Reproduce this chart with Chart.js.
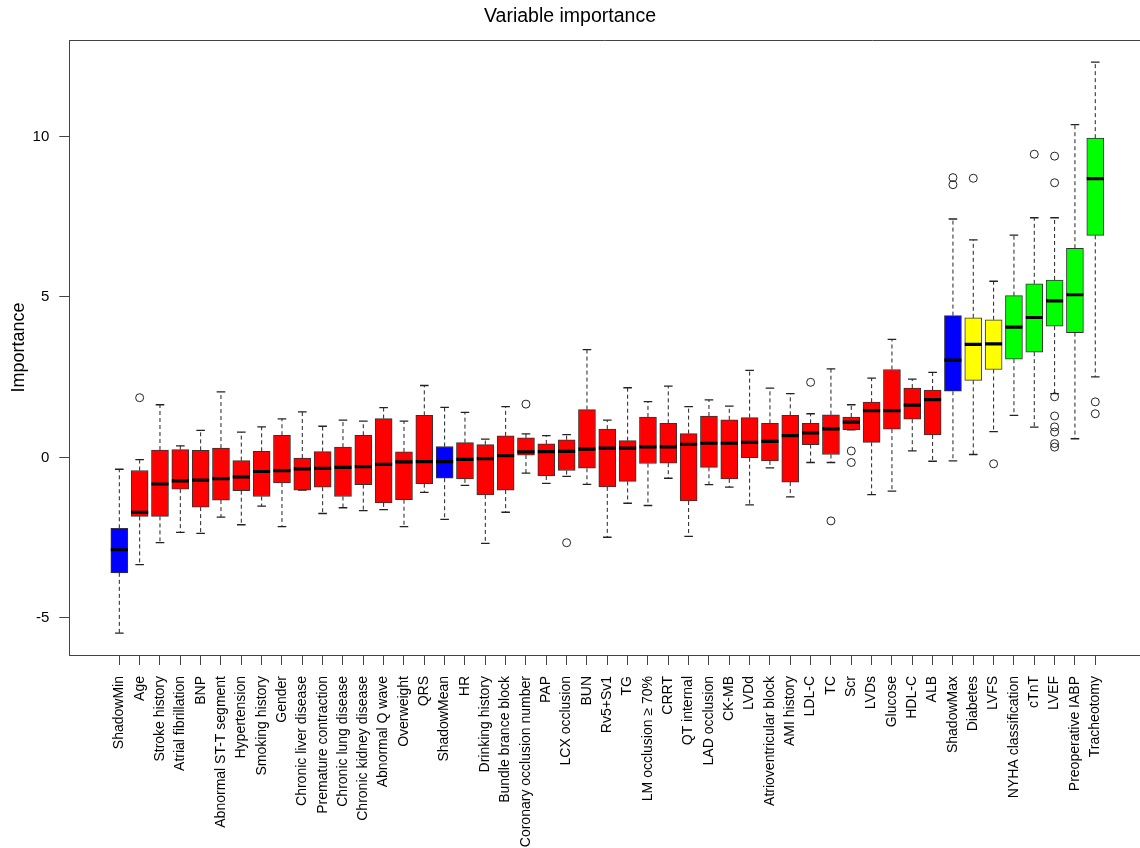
<!DOCTYPE html>
<html>
<head>
<meta charset="utf-8">
<title>Variable importance</title>
<script src="https://cdn.jsdelivr.net/npm/chart.js@4.4.1/dist/chart.umd.min.js"></script>
<style>
  html, body { margin: 0; padding: 0; background: #fff; overflow: hidden; }
  canvas { display: block; }
</style>
</head>
<body>
<canvas id="myChart" width="1140" height="848"></canvas>
<script>
// variables, left to right
const categories = [
    'ShadowMin', 'Age', 'Stroke history', 'Atrial fibrillation', 'BNP', 'Abnormal ST-T segment',
    'Hypertension', 'Smoking history', 'Gender', 'Chronic liver disease', 'Premature contraction',
    'Chronic lung disease', 'Chronic kidney disease', 'Abnormal Q wave', 'Overweight', 'QRS',
    'ShadowMean', 'HR', 'Drinking history', 'Bundle brance block', 'Coronary occlusion number',
    'PAP', 'LCX occlusion', 'BUN', 'Rv5+Sv1', 'TG', 'LM occlusion \u2265 70%', 'CRRT', 'QT internal',
    'LAD occlusion', 'CK-MB', 'LVDd', 'Atrioventricular block', 'AMI history', 'LDL-C', 'TC', 'Scr',
    'LVDs', 'Glucose', 'HDL-C', 'ALB', 'ShadowMax', 'Diabetes', 'LVFS', 'NYHA classification',
    'cTnT', 'LVEF', 'Preoperative IABP', 'Tracheotomy'
];

// boruta decision of each variable
const decision = [
    'shadow', 'rejected', 'rejected', 'rejected', 'rejected', 'rejected',
    'rejected', 'rejected', 'rejected', 'rejected', 'rejected',
    'rejected', 'rejected', 'rejected', 'rejected', 'rejected',
    'shadow', 'rejected', 'rejected', 'rejected', 'rejected',
    'rejected', 'rejected', 'rejected', 'rejected', 'rejected', 'rejected', 'rejected', 'rejected',
    'rejected', 'rejected', 'rejected', 'rejected', 'rejected', 'rejected', 'rejected', 'rejected',
    'rejected', 'rejected', 'rejected', 'rejected', 'shadow', 'tentative', 'tentative', 'confirmed',
    'confirmed', 'confirmed', 'confirmed', 'confirmed'
];

const whiskerLow = [
    -5.48, -3.34, -2.66, -2.34, -2.37, -1.86, -2.10, -1.52, -2.16, -1.02, -1.75, -1.57, -1.66,
    -1.63, -2.16, -1.09, -1.93, -0.87, -2.68, -1.71, -0.49, -0.81, -0.59, -0.84, -2.49, -1.43,
    -1.50, -0.65, -2.46, -0.85, -0.93, -1.48, -0.33, -1.23, -0.16, -0.16, 0.86, -1.16, -1.05,
    0.20, -0.12, -0.11, 0.09, 0.80, 1.31, 0.94, 1.99, 0.58, 2.51
];
const quartile1 = [
    -3.60, -1.84, -1.84, -0.99, -1.55, -1.33, -1.04, -1.22, -0.80, -1.02, -0.93, -1.22, -0.85,
    -1.42, -1.32, -0.82, -0.65, -0.67, -1.17, -1.02, 0.07, -0.58, -0.41, -0.34, -0.92, -0.75,
    -0.19, -0.18, -1.36, -0.31, -0.67, -0.01, -0.11, -0.77, 0.40, 0.09, 0.86, 0.47, 0.88,
    1.19, 0.70, 2.06, 2.40, 2.74, 3.06, 3.28, 4.09, 3.89, 6.92
];
const medians = [
    -2.88, -1.71, -0.83, -0.73, -0.71, -0.66, -0.61, -0.44, -0.41, -0.36, -0.34, -0.31, -0.29,
    -0.22, -0.14, -0.13, -0.13, -0.06, -0.04, 0.05, 0.17, 0.18, 0.19, 0.26, 0.29, 0.29,
    0.33, 0.33, 0.41, 0.44, 0.44, 0.47, 0.50, 0.68, 0.76, 0.89, 1.10, 1.46, 1.46,
    1.63, 1.80, 3.03, 3.52, 3.54, 4.06, 4.36, 4.88, 5.07, 8.69
];
const quartile3 = [
    -2.21, -0.41, 0.23, 0.24, 0.22, 0.29, -0.10, 0.19, 0.69, -0.02, 0.18, 0.32, 0.69,
    1.21, 0.17, 1.31, 0.34, 0.46, 0.40, 0.67, 0.61, 0.42, 0.55, 1.49, 0.88, 0.52,
    1.26, 1.06, 0.74, 1.29, 1.17, 1.24, 1.06, 1.31, 1.06, 1.33, 1.26, 1.72, 2.74,
    2.16, 2.10, 4.42, 4.35, 4.29, 5.04, 5.41, 5.53, 6.52, 9.95
];
const whiskerHigh = [
    -0.37, -0.07, 1.64, 0.36, 0.84, 2.04, 0.79, 0.95, 1.20, 1.42, 0.97, 1.16, 1.13,
    1.55, 1.13, 2.24, 1.56, 1.40, 0.57, 1.58, 0.73, 0.68, 0.71, 3.36, 1.16, 2.17,
    1.74, 2.22, 1.58, 1.79, 1.60, 2.71, 2.16, 1.99, 1.36, 2.76, 1.64, 2.47, 3.68,
    2.44, 2.65, 7.43, 6.78, 5.49, 6.93, 7.47, 7.47, 10.37, 12.32
];
const outliers = [
    [], [1.86], [], [], [], [], [], [], [], [], [], [], [],
    [], [], [], [], [], [], [], [1.66], [], [-2.66], [], [], [],
    [], [], [], [], [], [], [], [], [2.34], [-1.98], [0.20, -0.16], [], [],
    [], [], [8.50, 8.72], [8.70], [-0.20], [], [9.45],
    [9.39, 8.56, 1.89, 1.29, 0.95, 0.79, 0.43, 0.32], [], [1.73, 1.36]
];

const yTicks = [-5, 0, 5, 10];

const colorOf = {
    shadow: '#0000ff',
    rejected: '#ff0000',
    tentative: '#ffff00',
    confirmed: '#00ff00'
};

const ink = '#222';

// build the datasets from the arrays above
const boxes = categories.map((c, i) => ({ x: i, y: [quartile1[i], quartile3[i]] }));
const medianPts = categories.map((c, i) => ({ x: i, y: medians[i] }));
const capPts = [];
const upperWhisk = [];
const lowerWhisk = [];
categories.forEach((c, i) => {
    capPts.push({ x: i, y: whiskerLow[i] }, { x: i, y: whiskerHigh[i] });
    upperWhisk.push({ x: i, y: quartile3[i] }, { x: i, y: whiskerHigh[i] }, { x: i, y: null });
    lowerWhisk.push({ x: i, y: quartile1[i] }, { x: i, y: whiskerLow[i] }, { x: i, y: null });
});
const outlierPts = [];
outliers.forEach((list, i) => list.forEach(v => outlierPts.push({ x: i, y: v })));

// top edge of the plot frame (left and bottom come from the axes)
const topFrame = {
    id: 'topFrame',
    afterDraw(chart) {
        const { ctx, chartArea } = chart;
        ctx.save();
        ctx.strokeStyle = '#444';
        ctx.lineWidth = 1;
        ctx.beginPath();
        ctx.moveTo(chartArea.left, Math.round(chartArea.top) + 0.5);
        ctx.lineTo(chartArea.right, Math.round(chartArea.top) + 0.5);
        ctx.stroke();
        ctx.restore();
    }
};

Chart.defaults.font.family = "'Liberation Sans', Arial, Helvetica, sans-serif";
Chart.defaults.color = '#000';

const ctx = document.getElementById('myChart');

new Chart(ctx, {
    type: 'bar',
    data: {
        datasets: [
            {
                type: 'scatter',
                data: outlierPts,
                pointStyle: 'circle',
                pointRadius: 4,
                backgroundColor: 'rgba(0,0,0,0)',
                borderColor: ink,
                borderWidth: 1
            },
            {
                type: 'scatter',
                data: medianPts,
                pointStyle: 'line',
                pointRadius: 8.5,
                borderColor: '#000',
                borderWidth: 3.2
            },
            {
                type: 'scatter',
                data: capPts,
                pointStyle: 'line',
                pointRadius: 4.3,
                borderColor: ink,
                borderWidth: 1.3
            },
            {
                data: boxes,
                backgroundColor: decision.map(d => colorOf[d]),
                borderColor: '#333',
                borderWidth: 1,
                borderSkipped: false,
                barThickness: 17
            },
            {
                type: 'line',
                data: upperWhisk,
                borderColor: ink,
                borderWidth: 1,
                borderDash: [4, 3],
                pointRadius: 0,
                spanGaps: false
            },
            {
                type: 'line',
                data: lowerWhisk,
                borderColor: ink,
                borderWidth: 1,
                borderDash: [4, 3],
                pointRadius: 0,
                spanGaps: false
            }
        ]
    },
    options: {
        responsive: false,
        animation: false,
        events: [],
        layout: { padding: 0, autoPadding: false },
        plugins: {
            legend: { display: false },
            tooltip: { enabled: false },
            title: {
                display: true,
                text: 'Variable importance',
                color: '#000',
                font: { size: 19.5, weight: 'normal' },
                padding: { top: 5, bottom: 11.6 }
            }
        },
        scales: {
            x: {
                type: 'linear',
                offset: false,
                min: -2.46,
                max: 50.2,
                afterBuildTicks: (scale) => {
                    scale.ticks = categories.map((c, i) => ({ value: i }));
                },
                afterFit: (scale) => {
                    scale.height = 193;
                    scale.paddingLeft = 0;
                    scale.paddingRight = 0;
                },
                ticks: {
                    autoSkip: false,
                    minRotation: 90,
                    maxRotation: 90,
                    padding: 11,
                    color: '#000',
                    font: { size: 14 },
                    callback: (value) => categories[value]
                },
                grid: {
                    offset: false,
                    drawOnChartArea: false,
                    drawTicks: true,
                    tickLength: 10,
                    color: '#444'
                },
                border: { display: true, color: '#444', width: 1 }
            },
            y: {
                min: -6.16,
                max: 13.01,
                afterBuildTicks: (scale) => {
                    scale.ticks = yTicks.map(v => ({ value: v }));
                },
                afterFit: (scale) => {
                    scale.width = 69.3;
                },
                ticks: {
                    padding: 10,
                    color: '#000',
                    font: { size: 15 }
                },
                grid: {
                    drawOnChartArea: false,
                    drawTicks: true,
                    tickLength: 10,
                    color: '#444'
                },
                border: { display: true, color: '#444', width: 1 },
                title: {
                    display: true,
                    text: 'Importance',
                    color: '#000',
                    font: { size: 18 },
                    padding: { top: 8 }
                }
            }
        }
    },
    plugins: [topFrame]
});
</script>
</body>
</html>
